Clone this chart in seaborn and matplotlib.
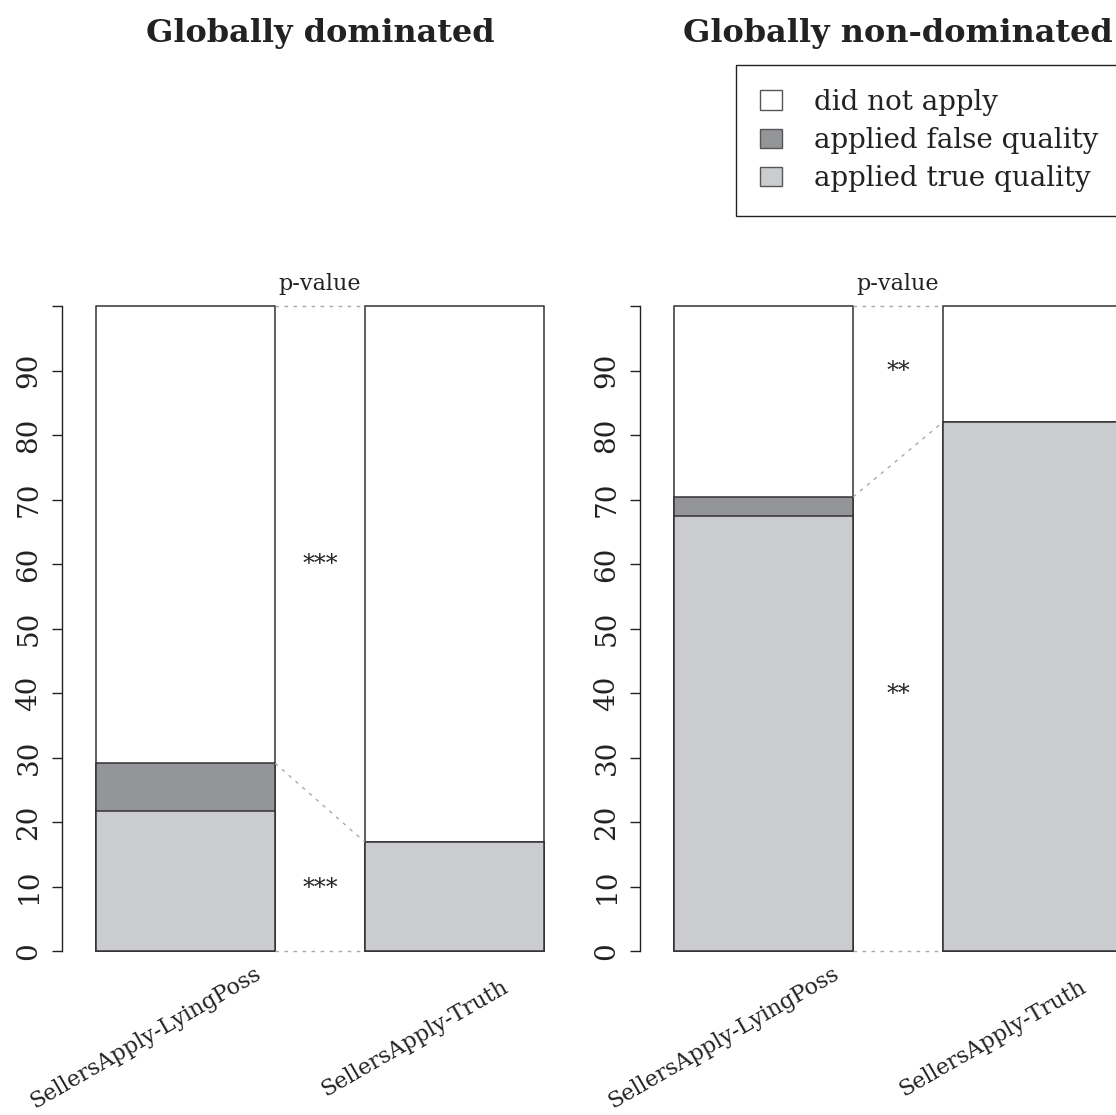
import numpy as np
import pandas as pd
import matplotlib
matplotlib.use("Agg")
import matplotlib.pyplot as plt
import matplotlib.transforms as mtrans
from matplotlib.patches import Patch
import seaborn as sns

# ---------------- data ----------------
categories = ["SellersApply-LyingPoss", "SellersApply-Truth"]
panel_titles = ["Globally dominated", "Globally non-dominated"]
legend_labels = ["did not apply", "applied false quality", "applied true quality"]

dom_true = [21.7, 16.9]
dom_false = [7.4, 0.0]
nondom_true = [67.5, 82.0]
nondom_false = [2.9, 0.0]

dom_sig = ["***", "***"]
dom_sig_y = [60.7, 10.5]
nondom_sig = ["**", "**"]
nondom_sig_y = [90.6, 40.5]

ytick_vals = list(range(0, 101, 10))
ytick_labels = [str(v) for v in range(0, 91, 10)] + [""]

# ---------------- style ----------------
sns.set_style("white")
plt.rcParams["font.family"] = ["DejaVu Serif"]

COL_NOT = "#ffffff"
COL_FALSE = "#939598"
COL_TRUE = "#cbcccf"
EDGE = "#333333"
DOT = "#a8a8a8"

W, H = 1116, 1115
fig = plt.figure(figsize=(W / 100, H / 100), dpi=100)


def px_axes(left, top, right, bottom):
    return fig.add_axes([left / W, 1 - bottom / H, (right - left) / W, (bottom - top) / H])


ax1 = px_axes(62, 306, 578, 951)
ax2 = px_axes(640, 306, 1156, 951)

BAR_W = 2 / 3


def draw_panel(ax, true_vals, false_vals, title, sig, sig_y):
    applied = [t + f for t, f in zip(true_vals, false_vals)]
    total = [100.0 for _ in true_vals]
    df = pd.DataFrame({"cat": categories, "total": total,
                       "applied": applied, "true": true_vals})
    for col, color in [("total", COL_NOT), ("applied", COL_FALSE), ("true", COL_TRUE)]:
        sns.barplot(data=df, x="cat", y=col, color=color, width=BAR_W,
                    edgecolor=EDGE, linewidth=1.1, saturation=1,
                    errorbar=None, ax=ax)
    for p in ax.patches:
        p.set_clip_on(False)

    ax.set_xlim(-0.459, 1.459)
    ax.set_ylim(0, 100)
    ax.set_xlabel("")
    ax.set_ylabel("")
    ax.set_xticks([])
    for s in ["top", "right", "bottom"]:
        ax.spines[s].set_visible(False)
    ax.spines["left"].set_color("#222222")
    ax.spines["left"].set_linewidth(1.0)
    ax.set_yticks(ytick_vals)
    ax.set_yticklabels(ytick_labels)
    ax.tick_params(axis="y", left=True, length=7, width=1.0, color="#222222",
                   pad=7, labelsize=20, labelcolor="#222222")
    for lab in ax.get_yticklabels():
        lab.set_rotation(90)
        lab.set_va("center")
        lab.set_ha("right")

    # dotted connectors between the two bars
    x0, x1 = BAR_W / 2, 1 - BAR_W / 2
    ls = (0, (2.5, 4))
    ax.plot([x0, x1], [total[0], total[1]], ls=ls, color=DOT, lw=1, clip_on=False)
    ax.plot([x0, x1], [0, 0], ls=ls, color=DOT, lw=1, clip_on=False)
    ax.plot([x0, x1], [applied[0], applied[1]], ls=ls, color=DOT, lw=1, clip_on=False)

    blend = mtrans.blended_transform_factory(ax.transData, ax.transAxes)
    ax.text(0.5, 1.025, "p-value", transform=blend, ha="center", va="baseline",
            fontsize=16, color="#222222")
    for s, y in zip(sig, sig_y):
        ax.text(0.5, y - 0.8, s, ha="center", va="center", fontsize=17, color="#222222")

    xt = ax.get_xaxis_transform()
    for i, c in enumerate(categories):
        ax.text(i - 0.15, -0.135, c, transform=xt, rotation=30,
                rotation_mode="anchor", ha="center", va="center",
                fontsize=16, color="#222222")

    ax.text(0.5, (951 - 42) / 645, title, transform=ax.transAxes, ha="center",
            va="baseline", fontsize=23, fontweight="bold", color="#222222")


draw_panel(ax1, dom_true, dom_false, panel_titles[0], dom_sig, dom_sig_y)
draw_panel(ax2, nondom_true, nondom_false, panel_titles[1], nondom_sig, nondom_sig_y)

handles = [Patch(facecolor=c, edgecolor="#555555", linewidth=1)
           for c in [COL_NOT, COL_FALSE, COL_TRUE]]
leg = fig.legend(handles, legend_labels, loc="upper left",
                 bbox_to_anchor=(736 / W, 1 - 65 / H), borderaxespad=0,
                 frameon=True, fancybox=False, edgecolor="#222222", framealpha=1,
                 fontsize=20, borderpad=0.85, labelspacing=0.41,
                 handlelength=0.82, handleheight=0.7, handletextpad=1.15)
leg.get_frame().set_linewidth(1.0)
for t in leg.get_texts():
    t.set_color("#222222")

fig.savefig("out.png", dpi=100)
